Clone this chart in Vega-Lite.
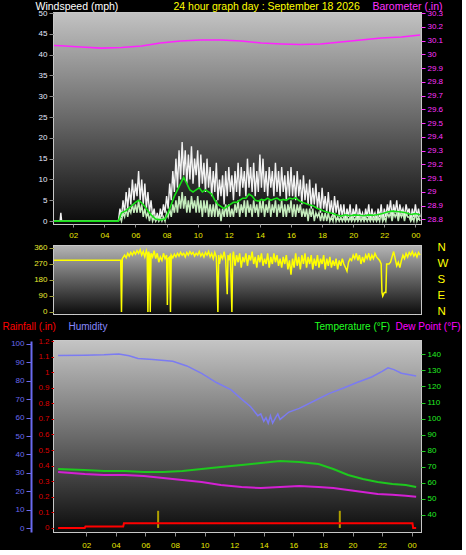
{
  "$schema": "https://vega.github.io/schema/vega-lite/v6.json",
  "background": "black",
  "padding": {"left": 1, "top": 0, "right": 0, "bottom": 0},
  "spacing": 1,
  "config": {
    "font": "Liberation Sans",
    "view": {"stroke": "#c8c8c8", "strokeWidth": 2},
    "axis": {"labelFont": "Liberation Sans", "titleFont": "Liberation Sans", "labelFontSize": 8, "titleFontSize": 10.5, "titleFontWeight": "normal", "gridColor": "#e6e6e6", "gridDash": [1, 3], "gridOpacity": 0.45, "labelOverlap": false, "labelFlush": false, "domain": false, "tickSize": 5, "zindex": 1}
  },
  "datasets": {
    "bg": [{"k": 1}],
    "wind": [
      {"h":0,"g":0,"a":0},{"h":1.15,"g":0,"a":0},{"h":1.2,"g":2,"a":0},{"h":1.25,"g":0,"a":0},{"h":4.8,"g":0,"a":0},
      {"h":4.9,"g":0,"a":0},{"h":5.0,"g":3,"a":1},{"h":5.1,"g":1,"a":0},{"h":5.2,"g":5,"a":2},{"h":5.3,"g":2,"a":1},{"h":5.4,"g":7,"a":3},{"h":5.5,"g":3,"a":1},{"h":5.6,"g":8,"a":3},{"h":5.7,"g":4,"a":2},{"h":5.8,"g":10,"a":4},{"h":5.9,"g":5,"a":2},
      {"h":6.0,"g":9,"a":4},{"h":6.1,"g":6,"a":2},{"h":6.2,"g":12,"a":5},{"h":6.3,"g":5,"a":2},{"h":6.4,"g":10,"a":4},{"h":6.5,"g":4,"a":1},{"h":6.6,"g":9,"a":3},{"h":6.7,"g":3,"a":1},{"h":6.8,"g":7,"a":2},{"h":6.9,"g":2,"a":0},
      {"h":7.0,"g":5,"a":2},{"h":7.1,"g":1,"a":0},{"h":7.2,"g":3,"a":1},{"h":7.3,"g":0,"a":0},{"h":7.4,"g":2,"a":1},{"h":7.5,"g":0,"a":0},{"h":7.6,"g":3,"a":1},{"h":7.7,"g":1,"a":0},{"h":7.8,"g":4,"a":1},{"h":7.9,"g":2,"a":0},
      {"h":8.0,"g":6,"a":2},{"h":8.1,"g":3,"a":1},{"h":8.2,"g":9,"a":3},{"h":8.3,"g":5,"a":1},{"h":8.4,"g":12,"a":4},{"h":8.5,"g":7,"a":2},{"h":8.6,"g":15,"a":5},{"h":8.7,"g":8,"a":2},{"h":8.8,"g":17,"a":6},{"h":8.9,"g":10,"a":3},
      {"h":9.0,"g":19,"a":7},{"h":9.1,"g":11,"a":3},{"h":9.2,"g":17,"a":6},{"h":9.3,"g":9,"a":2},{"h":9.4,"g":16,"a":5},{"h":9.5,"g":10,"a":2},{"h":9.6,"g":18,"a":6},{"h":9.7,"g":9,"a":3},{"h":9.8,"g":15,"a":5},{"h":9.9,"g":11,"a":2},
      {"h":10.0,"g":17,"a":6},{"h":10.1,"g":8,"a":2},{"h":10.2,"g":16,"a":5},{"h":10.3,"g":9,"a":1},{"h":10.4,"g":14,"a":5},{"h":10.5,"g":7,"a":2},{"h":10.6,"g":15,"a":5},{"h":10.7,"g":8,"a":1},{"h":10.8,"g":13,"a":4},{"h":10.9,"g":6,"a":1},
      {"h":11.0,"g":12,"a":4},{"h":11.1,"g":7,"a":1},{"h":11.2,"g":14,"a":5},{"h":11.3,"g":5,"a":1},{"h":11.4,"g":10,"a":3},{"h":11.5,"g":6,"a":0},{"h":11.6,"g":11,"a":3},{"h":11.7,"g":4,"a":1},{"h":11.8,"g":12,"a":4},{"h":11.9,"g":6,"a":1},
      {"h":12.0,"g":13,"a":4},{"h":12.1,"g":7,"a":1},{"h":12.2,"g":11,"a":3},{"h":12.3,"g":5,"a":1},{"h":12.4,"g":12,"a":4},{"h":12.5,"g":7,"a":2},{"h":12.6,"g":14,"a":5},{"h":12.7,"g":6,"a":1},{"h":12.8,"g":13,"a":4},{"h":12.9,"g":8,"a":2},
      {"h":13.0,"g":12,"a":5},{"h":13.1,"g":6,"a":1},{"h":13.2,"g":15,"a":5},{"h":13.3,"g":8,"a":2},{"h":13.4,"g":13,"a":4},{"h":13.5,"g":7,"a":1},{"h":13.6,"g":14,"a":5},{"h":13.7,"g":6,"a":2},{"h":13.8,"g":12,"a":4},{"h":13.9,"g":7,"a":1},
      {"h":14.0,"g":16,"a":5},{"h":14.1,"g":8,"a":2},{"h":14.2,"g":15,"a":5},{"h":14.3,"g":7,"a":1},{"h":14.4,"g":12,"a":4},{"h":14.5,"g":6,"a":2},{"h":14.6,"g":13,"a":5},{"h":14.7,"g":8,"a":1},{"h":14.8,"g":12,"a":4},{"h":14.9,"g":6,"a":2},
      {"h":15.0,"g":14,"a":5},{"h":15.1,"g":7,"a":1},{"h":15.2,"g":12,"a":4},{"h":15.3,"g":6,"a":2},{"h":15.4,"g":13,"a":5},{"h":15.5,"g":7,"a":1},{"h":15.6,"g":11,"a":4},{"h":15.7,"g":5,"a":1},{"h":15.8,"g":12,"a":4},{"h":15.9,"g":6,"a":2},
      {"h":16.0,"g":13,"a":5},{"h":16.1,"g":6,"a":1},{"h":16.2,"g":11,"a":4},{"h":16.3,"g":5,"a":1},{"h":16.4,"g":12,"a":4},{"h":16.5,"g":6,"a":2},{"h":16.6,"g":10,"a":4},{"h":16.7,"g":4,"a":1},{"h":16.8,"g":11,"a":3},{"h":16.9,"g":5,"a":1},
      {"h":17.0,"g":9,"a":3},{"h":17.1,"g":4,"a":0},{"h":17.2,"g":10,"a":3},{"h":17.3,"g":3,"a":1},{"h":17.4,"g":8,"a":3},{"h":17.5,"g":4,"a":0},{"h":17.6,"g":9,"a":2},{"h":17.7,"g":3,"a":1},{"h":17.8,"g":7,"a":2},{"h":17.9,"g":2,"a":0},
      {"h":18.0,"g":8,"a":2},{"h":18.1,"g":3,"a":0},{"h":18.2,"g":6,"a":2},{"h":18.3,"g":2,"a":0},{"h":18.4,"g":7,"a":2},{"h":18.5,"g":2,"a":0},{"h":18.6,"g":5,"a":1},{"h":18.7,"g":1,"a":0},{"h":18.8,"g":6,"a":2},{"h":18.9,"g":2,"a":0},
      {"h":19.0,"g":5,"a":1},{"h":19.1,"g":1,"a":0},{"h":19.2,"g":4,"a":1},{"h":19.3,"g":1,"a":0},{"h":19.4,"g":4,"a":1},{"h":19.5,"g":0,"a":0},{"h":19.6,"g":3,"a":1},{"h":19.7,"g":1,"a":0},{"h":19.8,"g":4,"a":1},{"h":19.9,"g":0,"a":0},
      {"h":20.0,"g":3,"a":1},{"h":20.1,"g":1,"a":0},{"h":20.2,"g":4,"a":1},{"h":20.3,"g":0,"a":0},{"h":20.4,"g":3,"a":1},{"h":20.5,"g":1,"a":0},{"h":20.6,"g":2,"a":1},{"h":20.7,"g":0,"a":0},{"h":20.8,"g":3,"a":1},{"h":20.9,"g":1,"a":0},
      {"h":21.0,"g":4,"a":1},{"h":21.1,"g":0,"a":0},{"h":21.2,"g":3,"a":1},{"h":21.3,"g":1,"a":0},{"h":21.4,"g":2,"a":1},{"h":21.5,"g":0,"a":0},{"h":21.6,"g":3,"a":1},{"h":21.7,"g":1,"a":0},{"h":21.8,"g":4,"a":2},{"h":21.9,"g":0,"a":0},
      {"h":22.0,"g":3,"a":1},{"h":22.1,"g":1,"a":0},{"h":22.2,"g":4,"a":2},{"h":22.3,"g":2,"a":1},{"h":22.4,"g":5,"a":2},{"h":22.5,"g":1,"a":0},{"h":22.6,"g":4,"a":2},{"h":22.7,"g":2,"a":1},{"h":22.8,"g":5,"a":2},{"h":22.9,"g":1,"a":0},
      {"h":23.0,"g":4,"a":2},{"h":23.1,"g":2,"a":1},{"h":23.2,"g":3,"a":2},{"h":23.3,"g":1,"a":0},{"h":23.4,"g":4,"a":2},{"h":23.5,"g":2,"a":1},{"h":23.6,"g":3,"a":1},{"h":23.7,"g":0,"a":0},{"h":23.8,"g":3,"a":1},{"h":23.9,"g":1,"a":0},
      {"h":24.0,"g":4,"a":2},{"h":24.1,"g":1,"a":0},{"h":24.2,"g":3,"a":1},{"h":24.3,"g":1,"a":0}
    ],
    "smooth": [
      {"h":0,"s":0},{"h":4.9,"s":0},{"h":5.1,"s":2},{"h":5.4,"s":2.5},{"h":5.7,"s":3.5},{"h":6.0,"s":4.5},{"h":6.2,"s":5},{"h":6.5,"s":4},{"h":6.8,"s":2.5},{"h":7.0,"s":1.5},{"h":7.3,"s":0.5},{"h":7.6,"s":0.3},{"h":7.9,"s":0.5},
      {"h":8.1,"s":2},{"h":8.3,"s":4},{"h":8.5,"s":6},{"h":8.7,"s":7.5},{"h":8.9,"s":9},{"h":9.1,"s":10.5},{"h":9.3,"s":9},{"h":9.5,"s":7.5},{"h":9.7,"s":7},{"h":9.9,"s":7.5},{"h":10.1,"s":8},{"h":10.3,"s":7},{"h":10.5,"s":7.5},{"h":10.7,"s":7},{"h":10.9,"s":6.5},
      {"h":11.1,"s":5},{"h":11.3,"s":4},{"h":11.5,"s":3.5},{"h":11.7,"s":3},{"h":11.9,"s":3.5},{"h":12.1,"s":4},{"h":12.3,"s":4.5},{"h":12.5,"s":4.5},{"h":12.7,"s":5},{"h":12.9,"s":5.5},{"h":13.1,"s":5.5},{"h":13.3,"s":6.5},{"h":13.5,"s":6},{"h":13.7,"s":5},{"h":13.9,"s":4.8},
      {"h":14.1,"s":5.2},{"h":14.3,"s":5},{"h":14.5,"s":5.5},{"h":14.7,"s":5},{"h":14.9,"s":5.3},{"h":15.1,"s":5.5},{"h":15.3,"s":5},{"h":15.5,"s":5.2},{"h":15.7,"s":5},{"h":15.9,"s":5.5},{"h":16.1,"s":5.3},{"h":16.3,"s":5.6},{"h":16.5,"s":5},{"h":16.7,"s":4.5},{"h":16.9,"s":4.3},
      {"h":17.1,"s":4},{"h":17.3,"s":3.8},{"h":17.5,"s":3.5},{"h":17.7,"s":3},{"h":17.9,"s":2.8},{"h":18.1,"s":2.4},{"h":18.3,"s":2.2},{"h":18.5,"s":2},{"h":18.7,"s":1.8},{"h":18.9,"s":1.5},{"h":19.2,"s":1.2},{"h":19.5,"s":1.5},{"h":19.8,"s":1.3},
      {"h":20.1,"s":1.5},{"h":20.4,"s":1.4},{"h":20.7,"s":1.3},{"h":21.0,"s":1.5},{"h":21.3,"s":1.4},{"h":21.6,"s":1.6},{"h":21.9,"s":1.8},{"h":22.2,"s":2.2},{"h":22.5,"s":2.4},{"h":22.8,"s":2.3},{"h":23.1,"s":2.2},{"h":23.4,"s":2},{"h":23.7,"s":1.6},{"h":24.0,"s":1.8},{"h":24.3,"s":1.5}
    ],
    "baro": [
      {"h":0,"b":30.067},{"h":1.2,"b":30.062},{"h":2.5,"b":30.053},{"h":3.8,"b":30.045},{"h":5.1,"b":30.049},{"h":6.4,"b":30.06},{"h":7.6,"b":30.082},{"h":8.9,"b":30.096},{"h":10.2,"b":30.104},{"h":11.5,"b":30.104},{"h":12.8,"b":30.096},{"h":14.1,"b":30.082},{"h":15.4,"b":30.075},{"h":16.6,"b":30.071},{"h":17.9,"b":30.075},{"h":19.2,"b":30.089},{"h":20.5,"b":30.104},{"h":21.8,"b":30.118},{"h":23.1,"b":30.125},{"h":24.3,"b":30.14}
    ],
    "dir": [
      {"h":0,"d":291},{"h":5.05,"d":291},{"h":5.1,"d":0},{"h":5.15,"d":300},{"h":5.3,"d":320},{"h":5.4,"d":305},{"h":5.5,"d":330},{"h":5.6,"d":315},{"h":5.7,"d":335},{"h":5.8,"d":320},{"h":5.9,"d":340},{"h":6.0,"d":325},{"h":6.1,"d":345},{"h":6.2,"d":330},{"h":6.3,"d":350},{"h":6.4,"d":320},{"h":6.5,"d":340},{"h":6.6,"d":310},{"h":6.7,"d":345},{"h":6.75,"d":330},{"h":6.8,"d":0},{"h":6.85,"d":340},{"h":6.9,"d":320},{"h":6.95,"d":0},
      {"h":7.0,"d":330},{"h":7.1,"d":310},{"h":7.2,"d":345},{"h":7.3,"d":300},{"h":7.4,"d":330},{"h":7.5,"d":280},{"h":7.6,"d":310},{"h":7.7,"d":290},{"h":7.8,"d":330},{"h":7.9,"d":300},{"h":8.0,"d":320},{"h":8.05,"d":40},{"h":8.1,"d":300},{"h":8.2,"d":310},{"h":8.25,"d":0},{"h":8.3,"d":320},{"h":8.4,"d":305},{"h":8.5,"d":325},{"h":8.6,"d":310},{"h":8.7,"d":330},{"h":8.8,"d":315},{"h":8.9,"d":335},
      {"h":9.0,"d":320},{"h":9.1,"d":330},{"h":9.2,"d":310},{"h":9.3,"d":335},{"h":9.4,"d":320},{"h":9.5,"d":340},{"h":9.6,"d":325},{"h":9.7,"d":335},{"h":9.8,"d":315},{"h":9.9,"d":330},{"h":10.0,"d":320},{"h":10.1,"d":340},{"h":10.2,"d":315},{"h":10.3,"d":330},{"h":10.4,"d":310},{"h":10.5,"d":335},{"h":10.6,"d":320},{"h":10.7,"d":340},{"h":10.8,"d":310},{"h":10.9,"d":330},
      {"h":11.0,"d":300},{"h":11.1,"d":335},{"h":11.2,"d":310},{"h":11.3,"d":0},{"h":11.35,"d":320},{"h":11.4,"d":270},{"h":11.5,"d":320},{"h":11.6,"d":300},{"h":11.7,"d":340},{"h":11.8,"d":290},{"h":11.9,"d":100},{"h":11.95,"d":320},{"h":12.0,"d":290},{"h":12.1,"d":330},{"h":12.2,"d":0},{"h":12.25,"d":310},{"h":12.3,"d":340},{"h":12.4,"d":260},{"h":12.5,"d":320},{"h":12.6,"d":280},{"h":12.7,"d":330},{"h":12.8,"d":250},{"h":12.9,"d":310},
      {"h":13.0,"d":280},{"h":13.1,"d":330},{"h":13.2,"d":260},{"h":13.3,"d":320},{"h":13.4,"d":290},{"h":13.5,"d":340},{"h":13.6,"d":270},{"h":13.7,"d":310},{"h":13.8,"d":250},{"h":13.9,"d":320},{"h":14.0,"d":280},{"h":14.1,"d":330},{"h":14.2,"d":260},{"h":14.3,"d":300},{"h":14.4,"d":270},{"h":14.5,"d":330},{"h":14.6,"d":250},{"h":14.7,"d":310},{"h":14.8,"d":270},{"h":14.9,"d":330},
      {"h":15.0,"d":280},{"h":15.1,"d":320},{"h":15.2,"d":260},{"h":15.3,"d":300},{"h":15.4,"d":250},{"h":15.5,"d":310},{"h":15.6,"d":270},{"h":15.7,"d":320},{"h":15.8,"d":240},{"h":15.9,"d":290},{"h":16.0,"d":210},{"h":16.1,"d":300},{"h":16.2,"d":250},{"h":16.3,"d":330},{"h":16.4,"d":260},{"h":16.5,"d":310},{"h":16.6,"d":240},{"h":16.7,"d":320},{"h":16.8,"d":270},{"h":16.9,"d":330},
      {"h":17.0,"d":250},{"h":17.1,"d":310},{"h":17.2,"d":270},{"h":17.3,"d":320},{"h":17.4,"d":240},{"h":17.5,"d":300},{"h":17.6,"d":260},{"h":17.7,"d":320},{"h":17.8,"d":250},{"h":17.9,"d":300},{"h":18.0,"d":270},{"h":18.1,"d":320},{"h":18.2,"d":240},{"h":18.3,"d":300},{"h":18.4,"d":260},{"h":18.5,"d":310},{"h":18.6,"d":250},{"h":18.7,"d":290},{"h":18.8,"d":260},{"h":18.9,"d":300},
      {"h":19.0,"d":240},{"h":19.1,"d":290},{"h":19.2,"d":260},{"h":19.3,"d":300},{"h":19.4,"d":270},{"h":19.5,"d":250},{"h":19.6,"d":230},{"h":19.7,"d":280},{"h":19.8,"d":300},{"h":19.9,"d":290},{"h":20.0,"d":320},{"h":20.1,"d":300},{"h":20.2,"d":330},{"h":20.3,"d":290},{"h":20.4,"d":320},{"h":20.5,"d":270},{"h":20.6,"d":310},{"h":20.7,"d":280},{"h":20.8,"d":320},{"h":20.9,"d":300},
      {"h":21.0,"d":330},{"h":21.1,"d":290},{"h":21.2,"d":320},{"h":21.3,"d":300},{"h":21.4,"d":330},{"h":21.5,"d":310},{"h":21.6,"d":300},{"h":21.7,"d":290},{"h":21.8,"d":270},{"h":21.85,"d":110},{"h":21.9,"d":90},{"h":22.0,"d":110},{"h":22.1,"d":110},{"h":22.15,"d":270},{"h":22.3,"d":270},{"h":22.4,"d":280},{"h":22.5,"d":310},{"h":22.6,"d":340},{"h":22.7,"d":300},{"h":22.8,"d":260},{"h":22.9,"d":280},
      {"h":23.0,"d":250},{"h":23.1,"d":290},{"h":23.2,"d":320},{"h":23.3,"d":300},{"h":23.4,"d":330},{"h":23.5,"d":310},{"h":23.6,"d":335},{"h":23.7,"d":320},{"h":23.8,"d":340},{"h":23.9,"d":315},{"h":24.0,"d":330},{"h":24.1,"d":310},{"h":24.2,"d":335},{"h":24.3,"d":320}
    ],
    "hum": [
      {"h":0.1,"hu":93.6},{"h":1.9,"hu":93.8},{"h":3.2,"hu":94},{"h":4.2,"hu":94.5},{"h":4.9,"hu":93.5},{"h":5.5,"hu":92},{"h":6.5,"hu":91.5},{"h":7.85,"hu":90.5},{"h":8.8,"hu":88},{"h":9.8,"hu":84},{"h":10.8,"hu":79},{"h":11.8,"hu":75},{"h":12.5,"hu":70},{"h":13.1,"hu":66},{"h":13.4,"hu":63},{"h":13.6,"hu":61},{"h":13.8,"hu":62},{"h":14.0,"hu":58},{"h":14.15,"hu":60},{"h":14.3,"hu":57},{"h":14.45,"hu":61},{"h":14.6,"hu":57},{"h":14.8,"hu":60},{"h":14.95,"hu":62},{"h":15.1,"hu":59},{"h":15.4,"hu":61},{"h":15.7,"hu":63},{"h":16.4,"hu":65},{"h":17.4,"hu":69},{"h":18.4,"hu":73},{"h":19.4,"hu":76},{"h":20.3,"hu":79},{"h":21.3,"hu":82},{"h":22.0,"hu":85},{"h":22.4,"hu":87},{"h":22.8,"hu":86},{"h":23.3,"hu":84},{"h":24.3,"hu":82.5}
    ],
    "temp": [
      {"h":0.1,"t":68.6,"dp":66.8},{"h":1.9,"t":68,"dp":65.5},{"h":3.2,"t":67.4,"dp":64.9},{"h":4.6,"t":67.4,"dp":64.9},{"h":5.9,"t":66.8,"dp":64.3},{"h":7.2,"t":66.8,"dp":63},{"h":8.5,"t":67.4,"dp":61.8},{"h":9.8,"t":68.6,"dp":60.5},{"h":11.1,"t":69.9,"dp":58.7},{"h":12.5,"t":71.1,"dp":57.4},{"h":13.8,"t":72.4,"dp":56.8},{"h":15.1,"t":73.6,"dp":57.4},{"h":16.4,"t":73,"dp":58},{"h":17.7,"t":71.7,"dp":57.4},{"h":18.7,"t":68.6,"dp":56.8},{"h":19.7,"t":64.9,"dp":55.5},{"h":20.7,"t":62.4,"dp":54.3},{"h":21.7,"t":60.5,"dp":53.1},{"h":22.7,"t":59.3,"dp":52.6},{"h":23.6,"t":58.7,"dp":52},{"h":24.3,"t":57.4,"dp":51.4}
    ],
    "rain": [
      {"h":0.1,"r":0},{"h":1.9,"r":0},{"h":1.95,"r":0.01},{"h":4.5,"r":0.01},{"h":4.55,"r":0.03},{"h":24.05,"r":0.03},{"h":24.1,"r":0},{"h":24.3,"r":0}
    ],
    "rate": [
      {"h":6.86,"rr":0.11},{"h":19.14,"rr":0.11}
    ]
  },
  "vconcat": [
    {
      "width": 367, "height": 211,
      "layer": [
        {
          "layer": [
            {
              "data": {"name": "bg"},
              "mark": {"type": "rect", "color": {"gradient": "linear", "x1": 0, "y1": 0, "x2": 0, "y2": 1, "stops": [{"offset": 0, "color": "#c2c2c2"}, {"offset": 0.5, "color": "#686868"}, {"offset": 1, "color": "#0a0a0a"}]}},
              "encoding": {}
            },
            {
              "data": {"name": "wind"},
              "mark": {"type": "line", "color": "#f2f2f2", "strokeWidth": 1.4, "clip": true},
              "encoding": {
                "x": {"field": "h", "type": "quantitative", "scale": {"domain": [0.76, 24.36], "nice": false, "zero": false}, "axis": {"orient": "bottom", "values": [2,4,6,8,10,12,14,16,18,20,22,24], "labels": false, "tickSize": 3, "tickColor": "#909090", "grid": true, "title": null}},
                "y": {"field": "g", "type": "quantitative", "scale": {"domain": [-0.7, 50], "nice": false, "zero": false}, "axis": {"values": [0,5,10,15,20,25,30,35,40,45,50], "labelColor": "#e4eaff", "tickColor": "#8c8c8c", "grid": true, "title": "Windspeed (mph)", "titleColor": "#ffffff", "titleAngle": 0, "titleAlign": "left", "titleBaseline": "top", "titleX": -19, "titleY": -12}}
              }
            },
            {
              "data": {"name": "wind"},
              "mark": {"type": "line", "color": "#c4ecbc", "strokeWidth": 1.5, "clip": true},
              "encoding": {
                "x": {"field": "h", "type": "quantitative", "scale": {"domain": [0.76, 24.36], "nice": false, "zero": false}, "axis": {"orient": "bottom", "values": [2,4,6,8,10,12,14,16,18,20,22,24], "labels": false, "tickSize": 3, "tickColor": "#909090", "grid": true, "title": null}},
                "y": {"field": "a", "type": "quantitative", "scale": {"domain": [-0.7, 50], "nice": false, "zero": false}, "axis": {"values": [0,5,10,15,20,25,30,35,40,45,50], "labelColor": "#e4eaff", "tickColor": "#8c8c8c", "grid": true, "title": "Windspeed (mph)", "titleColor": "#ffffff", "titleAngle": 0, "titleAlign": "left", "titleBaseline": "top", "titleX": -19, "titleY": -12}}
              }
            },
            {
              "data": {"name": "smooth"},
              "mark": {"type": "line", "color": "#16e016", "strokeWidth": 1.6, "clip": true},
              "encoding": {
                "x": {"field": "h", "type": "quantitative", "scale": {"domain": [0.76, 24.36], "nice": false, "zero": false}, "axis": {"orient": "bottom", "values": [2,4,6,8,10,12,14,16,18,20,22,24], "labels": false, "tickSize": 3, "tickColor": "#909090", "grid": true, "title": null}},
                "y": {"field": "s", "type": "quantitative", "scale": {"domain": [-0.7, 50], "nice": false, "zero": false}, "axis": {"values": [0,5,10,15,20,25,30,35,40,45,50], "labelColor": "#e4eaff", "tickColor": "#8c8c8c", "grid": true, "title": "Windspeed (mph)", "titleColor": "#ffffff", "titleAngle": 0, "titleAlign": "left", "titleBaseline": "top", "titleX": -19, "titleY": -12}}
              }
            }
          ]
        },
        {
          "data": {"name": "baro"},
          "mark": {"type": "line", "color": "#ff22ff", "strokeWidth": 1.6, "clip": true},
          "encoding": {
            "x": {"field": "h", "type": "quantitative", "scale": {"domain": [0.76, 24.36], "nice": false, "zero": false}, "axis": {"orient": "top", "labels": false, "ticks": false, "grid": false, "title": "24 hour graph day : September 18 2026", "titleColor": "#ffff00", "titleAlign": "left", "titleBaseline": "top", "titleX": 119, "titleY": -12}},
            "y": {"field": "b", "type": "quantitative", "scale": {"domain": [28.766, 30.3], "nice": false, "zero": false}, "axis": {"orient": "right", "values": [28.8,28.9,29,29.1,29.2,29.3,29.4,29.5,29.6,29.7,29.8,29.9,30,30.1,30.2,30.3], "format": "~g", "labelColor": "#ff33ff", "tickColor": "#ff33ff", "tickSize": 4, "grid": false, "title": "Barometer (.in)", "titleColor": "#ff33ff", "titleAngle": 0, "titleAlign": "left", "titleBaseline": "top", "titleX": -49, "titleY": -12}}
          }
        }
      ],
      "resolve": {"scale": {"y": "independent"}, "axis": {"x": "independent"}}
    },
    {
      "width": 367, "height": 68,
      "layer": [
        {
          "layer": [
            {
              "data": {"name": "bg"},
              "mark": {"type": "rect", "color": {"gradient": "linear", "x1": 0, "y1": 0, "x2": 0, "y2": 1, "stops": [{"offset": 0, "color": "#b4b4b4"}, {"offset": 0.5, "color": "#606060"}, {"offset": 1, "color": "#0c0c0c"}]}},
              "encoding": {}
            },
            {
              "data": {"name": "dir"},
              "mark": {"type": "line", "color": "#ffff00", "strokeWidth": 1.5, "clip": true},
              "encoding": {
                "x": {"field": "h", "type": "quantitative", "scale": {"domain": [0.76, 24.36], "nice": false, "zero": false}, "axis": {"orient": "top", "values": [2,4,6,8,10,12,14,16,18,20,22,24], "labelExpr": "datum.value == 24 ? '00' : (datum.value < 10 ? '0' + datum.value : '' + datum.value)", "labelColor": "#e8e800", "ticks": false, "labelPadding": 7, "grid": true, "title": null}},
                "y": {"field": "d", "type": "quantitative", "scale": {"domain": [-11.25, 371.2], "nice": false, "zero": false}, "axis": {"values": [0,90,180,270,360], "labelColor": "#e8e830", "tickColor": "#a0a040", "grid": true, "title": null}}
              }
            }
          ]
        },
        {
          "data": {"name": "dir"},
          "mark": {"type": "line", "opacity": 0, "clip": true},
          "encoding": {
            "x": {"field": "h", "type": "quantitative", "scale": {"domain": [0.76, 24.36], "nice": false, "zero": false}, "axis": null},
            "y": {"field": "d", "type": "quantitative", "scale": {"domain": [-11.25, 371.2], "nice": false, "zero": false}, "axis": {"orient": "right", "values": [0,90,180,270,360], "labelExpr": "datum.value == 0 || datum.value == 360 ? 'N' : (datum.value == 270 ? 'W' : (datum.value == 180 ? 'S' : 'E'))", "labelColor": "#ffff00", "labelFontSize": 11.5, "labelAlign": "left", "labelPadding": 16, "ticks": false, "grid": false, "title": null}}
          }
        }
      ],
      "resolve": {"scale": {"y": "independent"}, "axis": {"x": "independent"}}
    },
    {
      "width": 367, "height": 191,
      "layer": [
        {
          "layer": [
            {
              "data": {"name": "bg"},
              "mark": {"type": "rect", "color": {"gradient": "linear", "x1": 0, "y1": 0, "x2": 0, "y2": 1, "stops": [{"offset": 0, "color": "#c4c4c4"}, {"offset": 0.5, "color": "#6a6a6a"}, {"offset": 1, "color": "#0c0c0c"}]}},
              "encoding": {}
            },
            {
              "data": {"name": "rate"},
              "mark": {"type": "bar", "color": "#b0a000", "size": 2, "clip": true},
              "encoding": {
                "x": {"field": "h", "type": "quantitative", "scale": {"domain": [0.16, 24.29], "nice": false, "zero": false}, "axis": {"orient": "bottom", "values": [2,4,6,8,10,12,14,16,18,20,22,24], "labelExpr": "datum.value == 24 ? '00' : (datum.value < 10 ? '0' + datum.value : '' + datum.value)", "labelColor": "#e8e800", "tickColor": "#909090", "tickSize": 4, "labelPadding": 5, "grid": true, "title": null}},
                "y": {"field": "rr", "type": "quantitative", "scale": {"domain": [-0.026, 1.2], "nice": false, "zero": false}, "axis": {"values": [0,0.1,0.2,0.3,0.4,0.5,0.6,0.7,0.8,0.9,1,1.1,1.2], "format": "~g", "labelColor": "#dd0000", "tickColor": "#dd0000", "tickSize": 3, "grid": false, "title": "Rainfall (.in)", "titleColor": "#ff0000", "titleFontSize": 10, "titleAngle": 0, "titleAlign": "left", "titleBaseline": "top", "titleX": -52, "titleY": -20}}
              }
            },
            {
              "data": {"name": "rain"},
              "mark": {"type": "line", "color": "#ff0000", "strokeWidth": 2, "clip": true},
              "encoding": {
                "x": {"field": "h", "type": "quantitative", "scale": {"domain": [0.16, 24.29], "nice": false, "zero": false}, "axis": {"orient": "bottom", "values": [2,4,6,8,10,12,14,16,18,20,22,24], "labelExpr": "datum.value == 24 ? '00' : (datum.value < 10 ? '0' + datum.value : '' + datum.value)", "labelColor": "#e8e800", "tickColor": "#909090", "tickSize": 4, "labelPadding": 5, "grid": true, "title": null}},
                "y": {"field": "r", "type": "quantitative", "scale": {"domain": [-0.026, 1.2], "nice": false, "zero": false}, "axis": {"values": [0,0.1,0.2,0.3,0.4,0.5,0.6,0.7,0.8,0.9,1,1.1,1.2], "format": "~g", "labelColor": "#dd0000", "tickColor": "#dd0000", "tickSize": 3, "grid": false, "title": "Rainfall (.in)", "titleColor": "#ff0000", "titleFontSize": 10, "titleAngle": 0, "titleAlign": "left", "titleBaseline": "top", "titleX": -52, "titleY": -20}}
              }
            }
          ]
        },
        {
          "data": {"name": "hum"},
          "mark": {"type": "line", "color": "#7b7bf2", "strokeWidth": 1.5, "clip": true},
          "encoding": {
            "x": {"field": "h", "type": "quantitative", "scale": {"domain": [0.16, 24.29], "nice": false, "zero": false}, "axis": {"orient": "top", "labels": false, "ticks": false, "grid": false, "title": "Dew Point (°F)", "titleColor": "#ff00ff", "titleFontSize": 10, "titleAlign": "left", "titleBaseline": "top", "titleX": 341, "titleY": -20}},
            "y": {"field": "hu", "type": "quantitative", "scale": {"domain": [-2, 101.5], "nice": false, "zero": false}, "axis": {"orient": "left", "values": [0,10,20,30,40,50,60,70,80,90,100], "offset": 23, "domain": true, "domainColor": "#6a6af0", "domainWidth": 2, "labelColor": "#6a6af0", "tickColor": "#6a6af0", "tickSize": 5, "grid": true, "title": "Humidity", "titleColor": "#8888ff", "titleFontSize": 10, "titleAngle": 0, "titleAlign": "left", "titleBaseline": "top", "titleX": 37, "titleY": -20}}
          }
        },
        {
          "layer": [
            {
              "data": {"name": "temp"},
              "mark": {"type": "line", "color": "#1ec81e", "strokeWidth": 2, "clip": true},
              "encoding": {
                "x": {"field": "h", "type": "quantitative", "scale": {"domain": [0.16, 24.29], "nice": false, "zero": false}, "axis": null},
                "y": {"field": "t", "type": "quantitative", "scale": {"domain": [29.4, 148.3], "nice": false, "zero": false}, "axis": {"orient": "right", "values": [40,50,60,70,80,90,100,110,120,130,140], "labelColor": "#22ee22", "tickColor": "#22cc22", "tickSize": 4, "grid": false, "title": "Temperature (°F)", "titleColor": "#22ff22", "titleFontSize": 10, "titleAngle": 0, "titleAlign": "left", "titleBaseline": "top", "titleX": -107, "titleY": -20}}
              }
            },
            {
              "data": {"name": "temp"},
              "mark": {"type": "line", "color": "#d420d4", "strokeWidth": 2, "clip": true},
              "encoding": {
                "x": {"field": "h", "type": "quantitative", "scale": {"domain": [0.16, 24.29], "nice": false, "zero": false}, "axis": null},
                "y": {"field": "dp", "type": "quantitative", "scale": {"domain": [29.4, 148.3], "nice": false, "zero": false}, "axis": {"orient": "right", "values": [40,50,60,70,80,90,100,110,120,130,140], "labelColor": "#22ee22", "tickColor": "#22cc22", "tickSize": 4, "grid": false, "title": "Temperature (°F)", "titleColor": "#22ff22", "titleFontSize": 10, "titleAngle": 0, "titleAlign": "left", "titleBaseline": "top", "titleX": -107, "titleY": -20}}
              }
            }
          ]
        }
      ],
      "resolve": {"scale": {"y": "independent"}, "axis": {"x": "independent"}}
    }
  ]
}
